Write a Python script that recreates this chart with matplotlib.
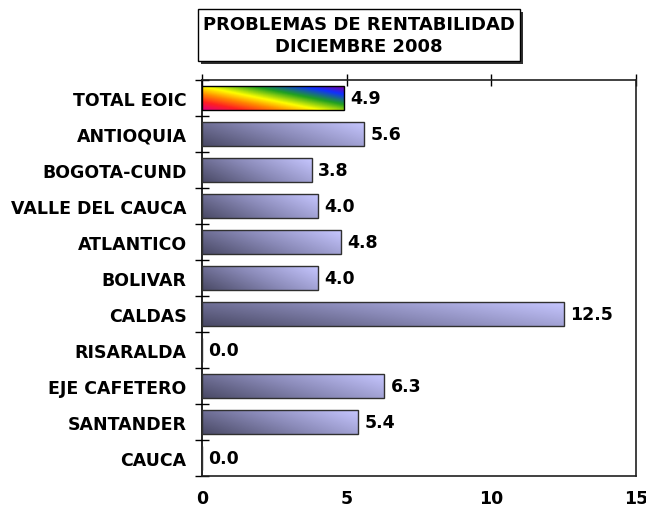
import numpy as np
import matplotlib.pyplot as plt
from matplotlib.colors import LinearSegmentedColormap
from matplotlib.patches import Rectangle

categories = ['TOTAL EOIC', 'ANTIOQUIA', 'BOGOTA-CUND', 'VALLE DEL CAUCA', 'ATLANTICO',
              'BOLIVAR', 'CALDAS', 'RISARALDA', 'EJE CAFETERO', 'SANTANDER', 'CAUCA']
values = [4.9, 5.6, 3.8, 4.0, 4.8, 4.0, 12.5, 0.0, 6.3, 5.4, 0.0]
xticks = [0, 5, 10, 15]
title = 'PROBLEMAS DE RENTABILIDAD\nDICIEMBRE 2008'

plt.rcParams['font.family'] = 'DejaVu Sans'
plt.rcParams['font.weight'] = 'bold'

blue_cmap = LinearSegmentedColormap.from_list('blues', ['#4a4a66', '#8a8ab8', '#c6c6ff'])
rainbow_cmap = LinearSegmentedColormap.from_list(
    'rb', [(0.0, '#e0007a'), (0.15, '#ff2020'), (0.3, '#ff8800'), (0.45, '#ffff00'),
           (0.65, '#20a020'), (0.85, '#1030ff'), (1.0, '#8000a0')])

fig = plt.figure(figsize=(6.46, 5.10), dpi=100)
ax = fig.add_axes([202 / 646, 1 - 477 / 510, 434 / 646, 396 / 510])

y = np.arange(len(categories))
h = 0.66
bars = ax.barh(y, values, height=h, fill=False, edgecolor='#303030', linewidth=1.0, zorder=3)

# gradient fill for each bar, clipped to the bar rectangle
u = np.linspace(0, 1, 200)[None, :]
v = np.linspace(0, 1, 30)[:, None]
for i, (rect, val) in enumerate(zip(bars.patches, values)):
    if val <= 0:
        continue
    if i == 0:
        t = 0.55 * u + 0.45 * v
        cmap = rainbow_cmap
        rect.set_edgecolor('black')
    else:
        t = 0.7 * u + 0.3 * v
        cmap = blue_cmap
    im = ax.imshow(t, cmap=cmap, vmin=0, vmax=1, origin='lower', aspect='auto',
                   extent=[0, val, y[i] + h / 2, y[i] - h / 2], zorder=2,
                   interpolation='bilinear')
    im.set_clip_path(rect)

for yi, val in zip(y, values):
    ax.annotate(f'{val:.1f}', xy=(val, yi), xytext=(4.5, 0), textcoords='offset points',
                ha='left', va='center', fontsize=12.5, fontweight='bold')

ax.set_xlim(0, 15)
ax.set_ylim(len(categories) - 0.5, -0.5)

ax.set_xticks(xticks)
ax.set_xticklabels([str(x) for x in xticks], fontsize=12.5, fontweight='bold')
ax.tick_params(axis='x', bottom=False, top=True, labelbottom=True, labeltop=False,
               direction='inout', length=9, width=1, pad=5)

ax.set_yticks(y)
ax.set_yticklabels(categories, fontsize=12.5, fontweight='bold')
ax.set_yticks(np.arange(len(categories) + 1) - 0.5, minor=True)
ax.tick_params(axis='y', which='major', length=0, pad=11)
ax.tick_params(axis='y', which='minor', direction='inout', length=10, width=1)

for s in ax.spines.values():
    s.set_linewidth(1.2)
    s.set_color('#202020')
ax.spines['left'].set_color('black')

# title box with shadow
bx0, bx1, by0, by1 = 198 / 646, 520 / 646, 1 - 62 / 510, 1 - 10 / 510
fig.patches.append(Rectangle((bx0 + 3 / 646, by0 - 3 / 510), bx1 - bx0, by1 - by0,
                             transform=fig.transFigure, facecolor='#303030',
                             edgecolor='none', zorder=1))
fig.patches.append(Rectangle((bx0, by0), bx1 - bx0, by1 - by0, transform=fig.transFigure,
                             facecolor='white', edgecolor='black', linewidth=1, zorder=2))
fig.text((bx0 + bx1) / 2, (by0 + by1) / 2, title, ha='center', va='center',
         fontsize=13, fontweight='bold', linespacing=1.25, zorder=3)

fig.savefig('out.png', dpi=100)
